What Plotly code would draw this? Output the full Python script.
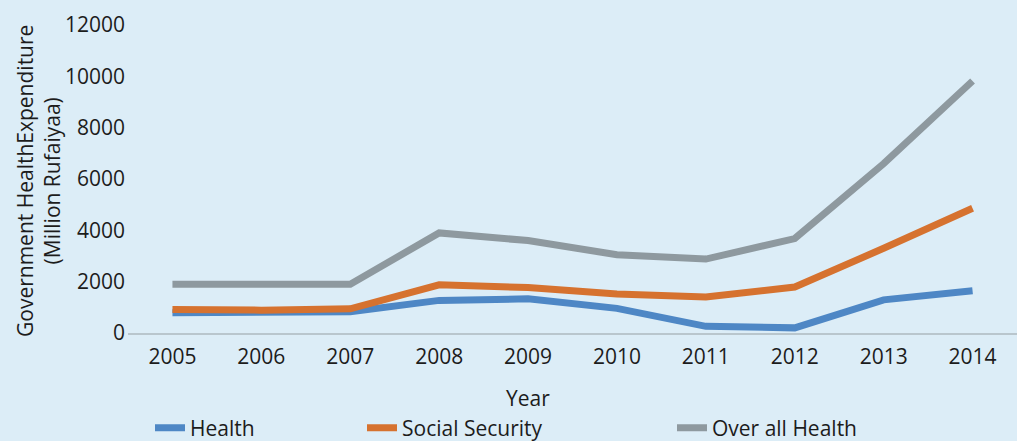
import plotly.graph_objects as go

years = ["2005", "2006", "2007", "2008", "2009", "2010", "2011", "2012", "2013", "2014"]
health = [790, 790, 830, 1270, 1330, 960, 260, 200, 1290, 1650]
social_security = [920, 890, 940, 1880, 1770, 1520, 1400, 1790, 3300, 4860]
overall_health = [1900, 1870, 1900, 3900, 3600, 3050, 2880, 3680, 6600, 9820]
y_ticks = [0, 2000, 4000, 6000, 8000, 10000, 12000]
y_tick_labels = ["0", "2000", "4000", "6000", "8000", "10000", "12000"]

BG = "#DCEDF7"
FONT = "Open Sans"
TXT = "#1c1c1c"
FS = 21

W, H = 1017, 441
ML, MR, MT, MB = 128, 0, 25, 108
PW = W - ML - MR
PH = H - MT - MB

def px_x(p):
    return (p - ML) / PW

def px_y(p):
    return (H - MB - p) / PH

fig = go.Figure()
series = [
    ("Health", health, "#4E87C5", "legend"),
    ("Social Security", social_security, "#D6722F", "legend2"),
    ("Over all Health", overall_health, "#8E999F", "legend3"),
]
for name, vals, col, lg in series:
    fig.add_trace(go.Scatter(
        x=years, y=vals, name=name, mode="lines",
        line=dict(color=col, width=7),
        legend=lg,
    ))

legend_common = dict(
    orientation="h", bgcolor="rgba(0,0,0,0)", borderwidth=0,
    font=dict(family=FONT, size=FS, color=TXT),
    yanchor="middle", y=px_y(428), xanchor="left",
)
fig.update_layout(
    width=W, height=H,
    margin=dict(l=ML, r=MR, t=MT, b=MB, autoexpand=False),
    paper_bgcolor=BG, plot_bgcolor=BG,
    font=dict(family=FONT, size=FS, color=TXT),
    showlegend=True,
    legend=dict(legend_common, x=px_x(150)),
    legend2=dict(legend_common, x=px_x(362)),
    legend3=dict(legend_common, x=px_x(672)),
    xaxis=dict(
        type="category", range=[-0.5, 9.5], showgrid=False, zeroline=False,
        showline=True, linecolor="#B9C6CD", linewidth=2,
        ticks="", tickfont=dict(family=FONT, size=FS, color=TXT),
        ticklabelstandoff=4,
    ),
    yaxis=dict(
        range=[0, 12000], tickvals=y_ticks, ticktext=y_tick_labels,
        showgrid=False, zeroline=False,
        showline=False, ticks="", tickfont=dict(family=FONT, size=FS, color=TXT),
        ticklabelstandoff=2,
    ),
    annotations=[
        dict(text="Government HealthExpenditure<br>(Million Rufaiyaa)",
             xref="paper", yref="paper", x=px_x(38), y=px_y(181),
             xanchor="center", yanchor="middle", textangle=-90, showarrow=False,
             font=dict(family=FONT, size=FS, color=TXT)),
        dict(text="Year", xref="paper", yref="paper", x=px_x(528), y=px_y(398),
             xanchor="center", yanchor="middle", showarrow=False,
             font=dict(family=FONT, size=FS, color=TXT)),
    ],
)

fig.write_html("out.html")
